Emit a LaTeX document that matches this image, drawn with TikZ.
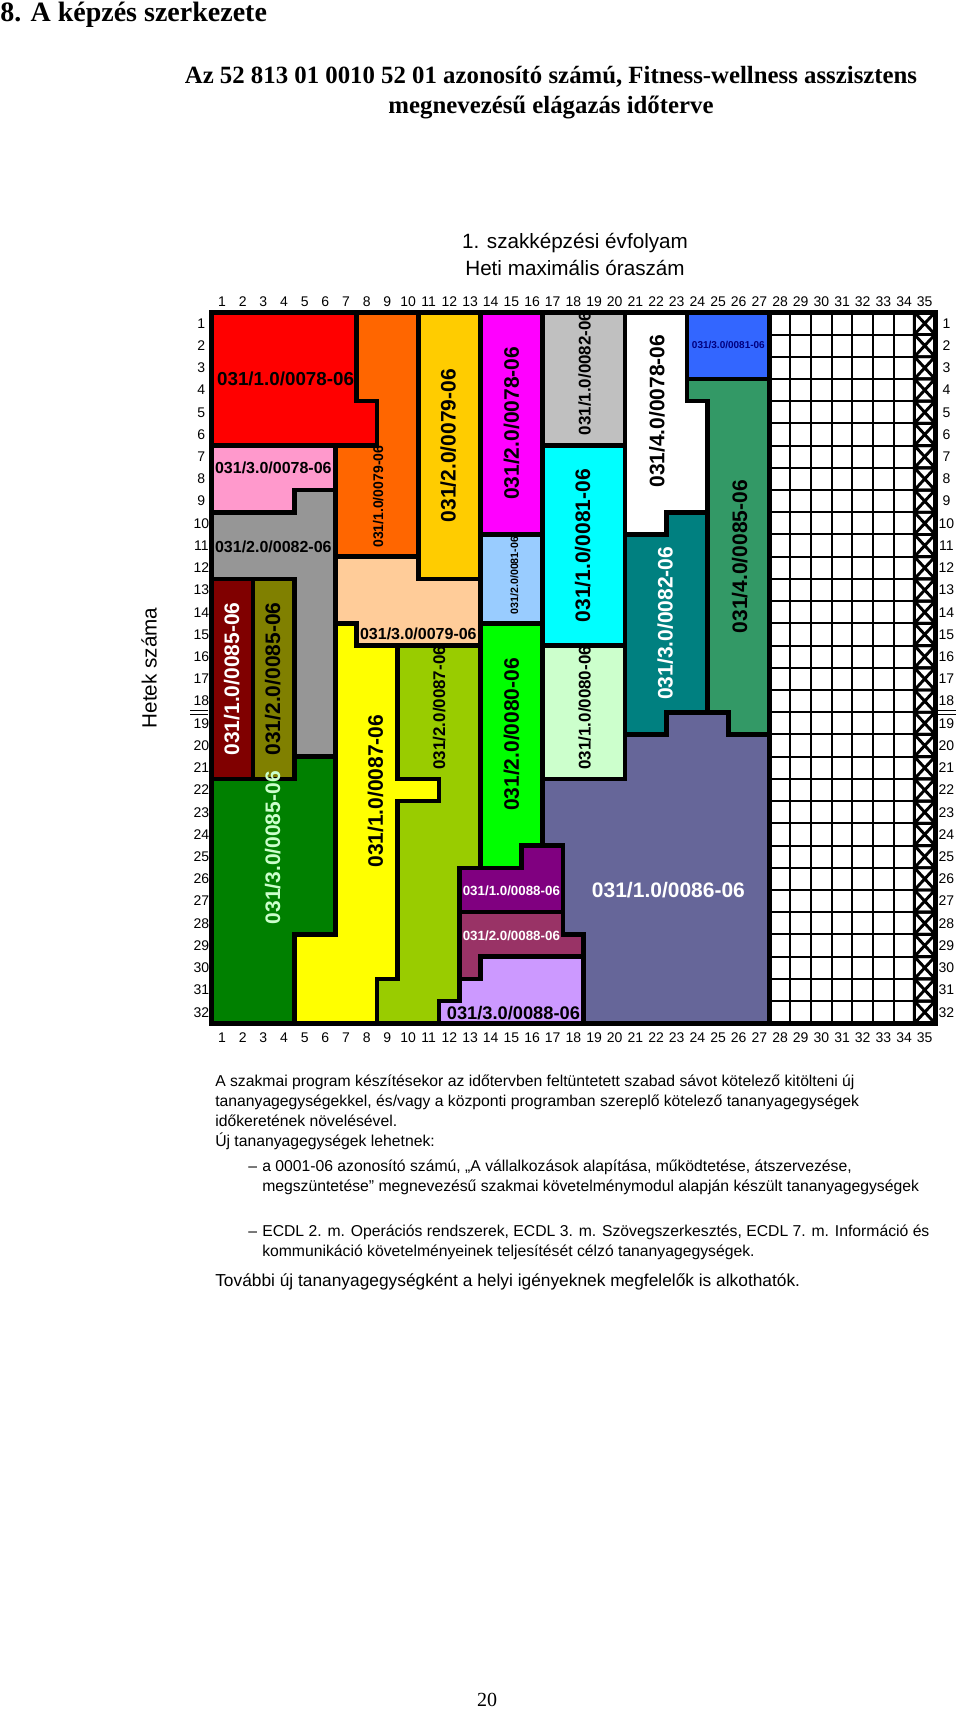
\documentclass[tikz,border=0pt]{standalone}
\usepackage{fontspec}
\usepackage{xcolor}
\usepackage{tikz}
\usetikzlibrary{positioning}
\setmainfont{Liberation Sans}
\newfontfamily\timesfont{Liberation Serif}
\newcommand{\setfs}[1]{\fontsize{#1}{#1}\selectfont}
\definecolor{cRed}{HTML}{FF0000}
\definecolor{cOrange}{HTML}{FF6600}
\definecolor{cGold}{HTML}{FFCC00}
\definecolor{cMagenta}{HTML}{FF00FF}
\definecolor{cSilver}{HTML}{C0C0C0}
\definecolor{cBlue}{HTML}{3366FF}
\definecolor{cSea}{HTML}{339966}
\definecolor{cPink}{HTML}{FF99CC}
\definecolor{cGray}{HTML}{969696}
\definecolor{cMaroon}{HTML}{800000}
\definecolor{cOlive}{HTML}{808000}
\definecolor{cGreen}{HTML}{008000}
\definecolor{cPeach}{HTML}{FFCC99}
\definecolor{cYellow}{HTML}{FFFF00}
\definecolor{cLime}{HTML}{99CC00}
\definecolor{cSky}{HTML}{99CCFF}
\definecolor{cBright}{HTML}{00FF00}
\definecolor{cCyan}{HTML}{00FFFF}
\definecolor{cMint}{HTML}{CCFFCC}
\definecolor{cTeal}{HTML}{008080}
\definecolor{cSlate}{HTML}{666699}
\definecolor{cPurple}{HTML}{800080}
\definecolor{cPlum}{HTML}{993366}
\definecolor{cLilac}{HTML}{CC99FF}
\definecolor{cNavy}{HTML}{000080}
\tikzset{
  unit/.style={fill=#1, draw=black, line width=3.4pt, line join=miter},
  cell/.style={draw=black, line width=1.5pt},
  cross/.style={draw=black, line width=2.2pt},
  frame/.style={draw=black, line width=3.8pt, line join=miter},
  code/.style={inner sep=0pt, font=\bfseries\setfs{#1}},
  num/.style={inner sep=0pt, font=\setfs{10.5pt}},
  txt/.style={inner sep=0pt, anchor=base west, font=\setfs{11.8pt}},
}

\begin{document}
\begin{tikzpicture}[x=0.75pt, y=-0.75pt]
\useasboundingbox (0,0) rectangle (960,1712);

\node[anchor=base west, inner sep=0pt, font=\timesfont\bfseries\setfs{21pt}] (title) at (0,21.7) {8. A képzés szerkezete};
\node[anchor=base, inner sep=0pt, font=\timesfont\bfseries\setfs{18.6pt}] (head1) at (551,83.3) {Az 52 813 01 0010 52 01 azonosító számú, Fitness-wellness asszisztens};
\node[anchor=base, inner sep=0pt, font=\timesfont\bfseries\setfs{18.6pt}] (head2) at (551,113.3) {megnevezésű elágazás időterve};
\node[anchor=base, inner sep=0pt, font=\setfs{15.5pt}] (year) at (575,248) {1. szakképzési évfolyam};
\node[anchor=base, inner sep=0pt, font=\setfs{15.5pt}] (hours) at (575,275) {Heti maximális óraszám};
\node[rotate=90, inner sep=0pt, font=\setfs{15.5pt}] (weeks) at (149,668) {Hetek száma};

\begin{scope}[shift={(211.7,312.3)}, x=15.5pt, y=-16.664pt]
% modules
\filldraw[unit=cRed] (0,0) -- (7,0) -- (7,4) -- (8,4) -- (8,6) -- (0,6) -- cycle;
\filldraw[unit=cOrange] (7,0) -- (10,0) -- (10,11) -- (6,11) -- (6,6) -- (8,6) -- (8,4) -- (7,4) -- cycle;
\filldraw[unit=cGold] (10,0) rectangle (13,12);
\filldraw[unit=cMagenta] (13,0) rectangle (16,10);
\filldraw[unit=cSilver] (16,0) rectangle (20,6);
\filldraw[unit=white] (20,0) -- (23,0) -- (23,4) -- (24,4) -- (24,9) -- (22,9) -- (22,10) -- (20,10) -- cycle;
\filldraw[unit=cBlue] (23,0) rectangle (27,3);
\filldraw[unit=cSea] (23,3) -- (27,3) -- (27,19) -- (25,19) -- (25,18) -- (24,18) -- (24,4) -- (23,4) -- cycle;
\filldraw[unit=cPink] (0,6) -- (6,6) -- (6,8) -- (4,8) -- (4,9) -- (0,9) -- cycle;
\filldraw[unit=cGray] (0,9) -- (4,9) -- (4,8) -- (6,8) -- (6,20) -- (4,20) -- (4,12) -- (0,12) -- cycle;
\filldraw[unit=cMaroon] (0,12) rectangle (2,21);
\filldraw[unit=cOlive] (2,12) rectangle (4,21);
\filldraw[unit=cGreen] (0,21) -- (4,21) -- (4,20) -- (6,20) -- (6,28) -- (4,28) -- (4,32) -- (0,32) -- cycle;
\filldraw[unit=cPeach] (6,11) -- (10,11) -- (10,12) -- (13,12) -- (13,15) -- (7,15) -- (7,14) -- (6,14) -- cycle;
\filldraw[unit=cYellow] (6,14) -- (7,14) -- (7,15) -- (9,15) -- (9,21) -- (11,21) -- (11,22) -- (9,22) -- (9,30) -- (8,30) -- (8,32) -- (4,32) -- (4,28) -- (6,28) -- cycle;
\filldraw[unit=cLime] (9,15) -- (13,15) -- (13,25) -- (12,25) -- (12,31) -- (11,31) -- (11,32) -- (8,32) -- (8,30) -- (9,30) -- (9,22) -- (11,22) -- (11,21) -- (9,21) -- cycle;
\filldraw[unit=cSky] (13,10) rectangle (16,14);
\filldraw[unit=cBright] (13,14) -- (16,14) -- (16,24) -- (15,24) -- (15,25) -- (13,25) -- cycle;
\filldraw[unit=cCyan] (16,6) rectangle (20,15);
\filldraw[unit=cMint] (16,15) rectangle (20,21);
\filldraw[unit=cTeal] (20,10) -- (22,10) -- (22,9) -- (24,9) -- (24,18) -- (22,18) -- (22,19) -- (20,19) -- cycle;
\filldraw[unit=cSlate] (16,21) -- (20,21) -- (20,19) -- (22,19) -- (22,18) -- (25,18) -- (25,19) -- (27,19) -- (27,32) -- (18,32) -- (18,28) -- (17,28) -- (17,24) -- (16,24) -- cycle;
\filldraw[unit=cPurple] (12,25) -- (15,25) -- (15,24) -- (17,24) -- (17,27) -- (12,27) -- cycle;
\filldraw[unit=cPlum] (12,27) -- (17,27) -- (17,28) -- (18,28) -- (18,29) -- (13,29) -- (13,30) -- (12,30) -- cycle;
\filldraw[unit=cLilac] (13,29) -- (18,29) -- (18,32) -- (11,32) -- (11,31) -- (12,31) -- (12,30) -- (13,30) -- cycle;

% free hours
\foreach \c in {28,...,34}
  \draw[cell] (\c,0) -- (\c,32);
\foreach \r in {1,...,31}
  \draw[cell] (27,\r) -- (35,\r);
\foreach \r in {0,...,31}
  \draw[cross] (34,\r) rectangle (35,\r+1) (34,\r) -- (35,\r+1) (34,\r+1) -- (35,\r);
\draw[frame] (0,0) rectangle (35,32);

% scales
\foreach \c in {1,...,35} {
  \node[num] (top\c) at (\c-0.5,-0.48) {\c};
  \node[num] (bot\c) at (\c-0.5,32.65) {\c};
}
\foreach \r in {1,...,32} {
  \node[num] (lft\r) at (-0.5,\r-0.5) {\r};
  \node[num] (rgt\r) at (35.55,\r-0.5) {\r};
}
\draw[line width=0.8pt] (-1.05,17.93) -- (-0.18,17.93) (-1.05,18.09) -- (-0.18,18.09);
\draw[line width=0.8pt] (35.1,17.93) -- (36,17.93) (35.1,18.09) -- (36,18.09);

% module codes
\node[code=14.1pt, anchor=west] (m1) at (0.25,3) {031/1.0/0078-06};
\node[code=12pt, anchor=west] (m2) at (0.15,7) {031/3.0/0078-06};
\node[code=12pt, anchor=west] (m3) at (0.15,10.55) {031/2.0/0082-06};
\node[code=10.5pt, rotate=90] (m4) at (8.05,8.3) {031/1.0/0079-06};
\node[code=15.75pt, rotate=90] (m5) at (11.45,6) {031/2.0/0079-06};
\node[code=15.75pt, rotate=90] (m6) at (14.5,5) {031/2.0/0078-06};
\node[code=12.7pt, rotate=90] (m7) at (18.05,2.75) {031/1.0/0082-06};
\node[code=15.75pt, rotate=90] (m8) at (21.55,4.45) {031/4.0/0078-06};
\node[code=7.5pt, text=cNavy] (m9) at (25,1.45) {031/3.0/0081-06};
\node[code=15.75pt, rotate=90] (m10) at (17.95,10.5) {031/1.0/0081-06};
\node[code=8pt, rotate=90] (m11) at (14.65,11.85) {031/2.0/0081-06};
\node[code=15.75pt, rotate=90] (m12) at (25.55,11) {031/4.0/0085-06};
\node[code=15.75pt, rotate=90, text=white] (m13) at (21.95,14) {031/3.0/0082-06};
\node[code=12pt] (m14) at (10,14.45) {031/3.0/0079-06};
\node[code=15.75pt, rotate=90, text=white] (m15) at (0.97,16.5) {031/1.0/0085-06};
\node[code=15.75pt, rotate=90] (m16) at (2.95,16.5) {031/2.0/0085-06};
\node[code=15.75pt, rotate=90, text=cMint] (m17) at (2.95,24.1) {031/3.0/0085-06};
\node[code=15.75pt, rotate=90] (m18) at (7.92,21.55) {031/1.0/0087-06};
\node[code=12.7pt, rotate=90] (m19) at (11,17.8) {031/2.0/0087-06};
\node[code=15.75pt, rotate=90] (m20) at (14.5,19) {031/2.0/0080-06};
\node[code=12.7pt, rotate=90] (m21) at (18.05,17.8) {031/1.0/0080-06};
\node[code=10pt, text=white] (m22) at (14.5,26.05) {031/1.0/0088-06};
\node[code=10pt, text=white] (m23) at (14.5,28.05) {031/2.0/0088-06};
\node[code=13.7pt] (m24) at (14.6,31.55) {031/3.0/0088-06};
\node[code=15.75pt, text=white] (m25) at (22.1,26) {031/1.0/0086-06};
\end{scope}

% notes
\node[txt] (n1) at (215,1086) {A szakmai program készítésekor az időtervben feltüntetett szabad sávot kötelező kitölteni új};
\node[txt] (n2) at (215,1106) {tananyagegységekkel, és/vagy a központi programban szereplő kötelező tananyagegységek};
\node[txt] (n3) at (215,1126) {időkeretének növelésével.};
\node[txt] (n4) at (215,1146.7) {Új tananyagegységek lehetnek:};
\node[txt] (d1) at (248,1171.7) {–};
\node[txt] (n5) at (262,1171.7) {a 0001-06 azonosító számú, „A vállalkozások alapítása, működtetése, átszervezése,};
\node[txt] (n6) at (262,1191.7) {megszüntetése" megnevezésű szakmai követelménymodul alapján készült tananyagegységek};
\node[txt] (d2) at (248,1236.7) {–};
\node[txt] (n7) at (262,1236.7) {ECDL 2. m. Operációs rendszerek, ECDL 3. m. Szövegszerkesztés, ECDL 7. m. Információ és};
\node[txt] (n8) at (262,1256.7) {kommunikáció követelményeinek teljesítését célzó tananyagegységek.};
\node[txt, font=\setfs{13pt}] (n9) at (215,1286.5) {További új tananyagegységként a helyi igényeknek megfelelők is alkothatók.};
\node[inner sep=0pt, font=\timesfont\setfs{15pt}] (page) at (487,1700) {20};
\end{tikzpicture}
\end{document}
